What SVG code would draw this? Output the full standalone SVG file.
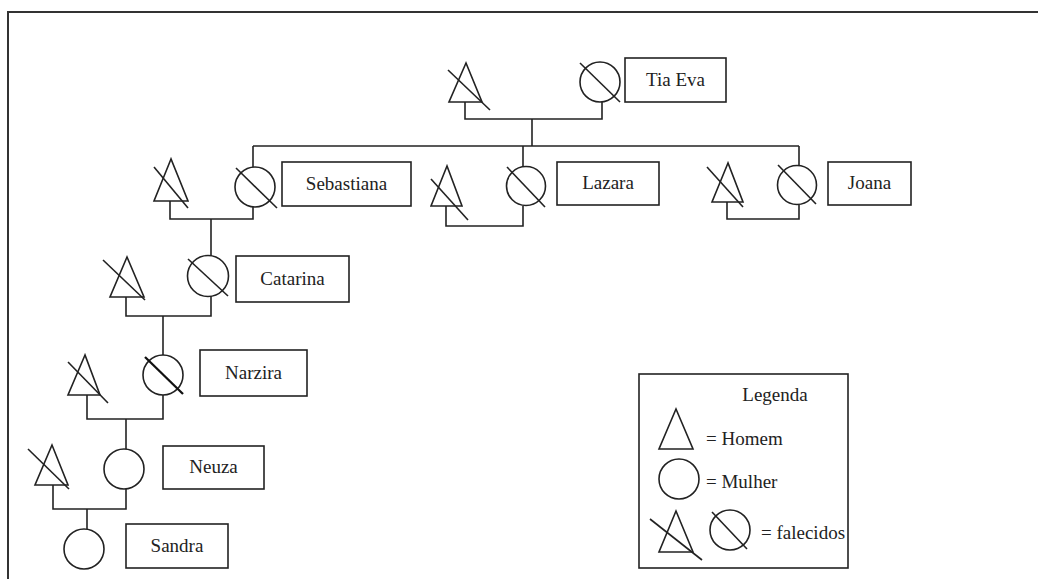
<svg xmlns="http://www.w3.org/2000/svg" width="1038" height="579" viewBox="0 0 1038 579">
<style>
.s{fill:none;stroke:#222;stroke-width:1.6}
.b{fill:#fff;stroke:#222;stroke-width:1.6}
.t{font-family:"Liberation Serif","Times New Roman",serif;font-size:19px;fill:#222;text-anchor:middle}
.l{font-family:"Liberation Serif","Times New Roman",serif;font-size:19px;fill:#222}
</style>
<rect width="1038" height="579" fill="#fff"/>
<path d="M8 579 V12 H1038" fill="none" stroke="#333" stroke-width="2"/>
<g id="connectors" class="s">
<path d="M465 102 V119 H602 V102"/>
<path d="M532 119 V146"/>
<path d="M253 146 H799"/>
<path d="M253 146 V167"/>
<path d="M523 146 V166"/>
<path d="M799 146 V166"/>
<path d="M170 201 V219 H253 V207"/>
<path d="M211 219 V256"/>
<path d="M446 206 V226 H523 V206"/>
<path d="M727 202 V219 H799 V205"/>
<path d="M126 297 V316 H211 V296"/>
<path d="M163 316 V355"/>
<path d="M87 395 V419 H163 V395"/>
<path d="M126 419 V449"/>
<path d="M53 485 V509 H126 V489"/>
<path d="M87 509 V529"/>
</g>
<g id="tia-eva-husband" class="s"><path d="M466 63 L449 102 H482 Z"/><path d="M448 70 L490 110"/></g>
<g id="tia-eva"><circle class="s" cx="600" cy="82" r="20"/><path class="s" d="M580 63 L620 102"/><rect class="b" x="625" y="58" width="101" height="44"/><text class="t" x="675.5" y="86">Tia Eva</text></g>
<g id="sebastiana-husband" class="s"><path d="M171 159 L154 201 H188 Z"/><path d="M154 167 L188 208"/></g>
<g id="sebastiana"><circle class="s" cx="255" cy="187" r="20"/><path class="s" d="M236 168 L277 208"/><rect class="b" x="282" y="162" width="129" height="44"/><text class="t" x="346.5" y="190">Sebastiana</text></g>
<g id="lazara-husband" class="s"><path d="M447 166 L431 206 H462 Z"/><path d="M431 179 L468 220"/></g>
<g id="lazara"><circle class="s" cx="526" cy="186" r="19.5"/><path class="s" d="M507 167 L545 207"/><rect class="b" x="557" y="162" width="102" height="43"/><text class="t" x="608" y="189">Lazara</text></g>
<g id="joana-husband" class="s"><path d="M728 163 L712 202 H743 Z"/><path d="M707 167 L743 207"/></g>
<g id="joana"><circle class="s" cx="797" cy="185" r="19.5"/><path class="s" d="M778 165 L816 204"/><rect class="b" x="828" y="162" width="83" height="43"/><text class="t" x="869.5" y="189">Joana</text></g>
<g id="catarina-husband" class="s"><path d="M127 257 L110 297 H144 Z"/><path d="M103 260 L145 300"/></g>
<g id="catarina"><circle class="s" cx="208" cy="276" r="20.5"/><path class="s" d="M188 259 L228 296"/><rect class="b" x="236" y="256" width="113" height="46"/><text class="t" x="292.5" y="285">Catarina</text></g>
<g id="narzira-husband" class="s"><path d="M85 355 L68 395 H100 Z"/><path d="M68 362 L108 403"/></g>
<g id="narzira"><circle class="s" cx="163" cy="375" r="20"/><path d="M145 357 L183 394" stroke="#111" stroke-width="2.3"/><rect class="b" x="200" y="350" width="107" height="46"/><text class="t" x="253.5" y="379">Narzira</text></g>
<g id="neuza-husband" class="s"><path d="M52 445 L35 485 H68 Z"/><path d="M28 449 L69 489"/></g>
<g id="neuza"><circle class="s" cx="124" cy="469" r="20"/><rect class="b" x="163" y="446" width="101" height="43"/><text class="t" x="213.5" y="473">Neuza</text></g>
<g id="sandra"><circle class="s" cx="84" cy="549" r="20"/><rect class="b" x="126" y="524" width="102" height="44"/><text class="t" x="177" y="552">Sandra</text></g>
<g id="legenda">
<rect class="b" x="639" y="374" width="209" height="194"/>
<text class="l" x="775" y="401" text-anchor="middle">Legenda</text>
<path class="s" d="M676 409 L659 449 H693 Z"/>
<text class="l" x="706" y="445">= Homem</text>
<circle class="s" cx="679" cy="479" r="20"/>
<text class="l" x="706" y="488">= Mulher</text>
<path class="s" d="M676 511 L659 552 H693 Z"/>
<path class="s" d="M650 519 L702 560"/>
<circle class="s" cx="730" cy="530" r="20"/>
<path class="s" d="M712 512 L747 549"/>
<text class="l" x="761" y="539">= falecidos</text>
</g>
</svg>
